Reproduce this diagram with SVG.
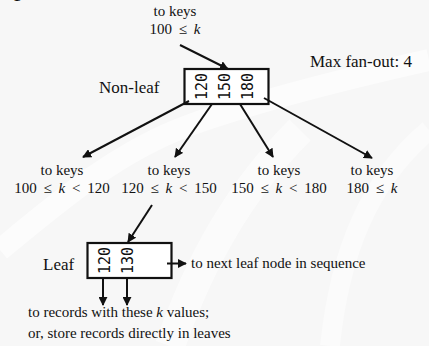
<svg xmlns="http://www.w3.org/2000/svg" width="429" height="346" viewBox="0 0 429 346">
<style>
.lbl{font-family:"Liberation Serif","Times New Roman",serif;fill:#111;}
.sm{font-size:15px;}
.lg{font-size:17px;}
.key{font-family:"DejaVu Sans Mono",monospace;font-size:15px;fill:#111;text-anchor:middle;}
.box{fill:#ffffff;stroke:#111;stroke-width:2.2;}
.con{stroke:#111;stroke-width:2;fill:none;marker-end:url(#ah);}
.mid{text-anchor:middle;}
.math{word-spacing:3px;}
</style>
<defs>
<marker id="ah" viewBox="0 0 10 10" refX="9" refY="5" markerWidth="4.5" markerHeight="4.5" orient="auto" markerUnits="strokeWidth">
<path d="M0,0 L10,5 L0,10 z" fill="#111"/>
</marker>
</defs>
<rect width="429" height="346" fill="#f7f7f7"/>
<g id="background" fill="none" stroke="#ffffff">
<path d="M0,250 C60,200 120,150 190,125 C260,100 340,80 429,60" stroke-width="22" opacity="0.6"/>
<path d="M170,346 C200,260 240,190 300,130" stroke-width="30" opacity="0.5"/>
<path d="M330,346 C340,250 370,180 429,130" stroke-width="20" opacity="0.45"/>
</g>
<text class="lbl" x="14" y="-4" font-size="26">p</text>
<g id="root-label">
<text class="lbl sm mid" x="175" y="16">to keys</text>
<text class="lbl sm mid math" x="175" y="34">100 ≤ <tspan font-style="italic">k</tspan></text>
</g>
<g id="fanout">
<text class="lbl lg" x="310" y="67">Max fan-out: 4</text>
</g>
<g id="nonleaf">
<text class="lbl lg" x="99" y="93">Non-leaf</text>
<rect class="box" x="184.5" y="69" width="84" height="35"/>
<text class="key" transform="translate(207,86.5) rotate(-90)">120</text>
<text class="key" transform="translate(230,86.5) rotate(-90)">150</text>
<text class="key" transform="translate(253,86.5) rotate(-90)">180</text>
</g>
<g id="child1">
<text class="lbl sm mid" x="62" y="175">to keys</text>
<text class="lbl sm mid math" x="62" y="193">100 ≤ <tspan font-style="italic">k</tspan> &lt; 120</text>
</g>
<g id="child2">
<text class="lbl sm mid" x="169" y="175">to keys</text>
<text class="lbl sm mid math" x="169" y="193">120 ≤ <tspan font-style="italic">k</tspan> &lt; 150</text>
</g>
<g id="child3">
<text class="lbl sm mid" x="279" y="175">to keys</text>
<text class="lbl sm mid math" x="279" y="193">150 ≤ <tspan font-style="italic">k</tspan> &lt; 180</text>
</g>
<g id="child4">
<text class="lbl sm mid" x="372" y="175">to keys</text>
<text class="lbl sm mid math" x="372" y="193">180 ≤ <tspan font-style="italic">k</tspan></text>
</g>
<g id="leaf">
<text class="lbl lg" x="43" y="270">Leaf</text>
<rect class="box" x="87.5" y="243" width="84" height="35"/>
<text class="key" transform="translate(110,260.5) rotate(-90)">120</text>
<text class="key" transform="translate(133,260.5) rotate(-90)">130</text>
</g>
<g id="next-label">
<text class="lbl sm" x="191" y="268">to next leaf node in sequence</text>
</g>
<g id="records-label">
<text class="lbl sm" x="28" y="317">to records with these <tspan font-style="italic">k</tspan> values;</text>
<text class="lbl sm" x="28" y="338">or, store records directly in leaves</text>
</g>
<g id="connectors">
<line class="con" x1="180" y1="45" x2="228" y2="69"/>
<line class="con" x1="189" y1="101" x2="83" y2="157"/>
<line class="con" x1="212" y1="104" x2="175" y2="157"/>
<line class="con" x1="240" y1="104" x2="273" y2="157"/>
<line class="con" x1="264" y1="98" x2="372" y2="158"/>
<line class="con" x1="152" y1="205" x2="128" y2="242"/>
<line class="con" x1="167" y1="263.5" x2="186" y2="263.5"/>
<line class="con" x1="103" y1="278" x2="103" y2="305"/>
<line class="con" x1="127" y1="278" x2="127" y2="305"/>
</g>
</svg>
